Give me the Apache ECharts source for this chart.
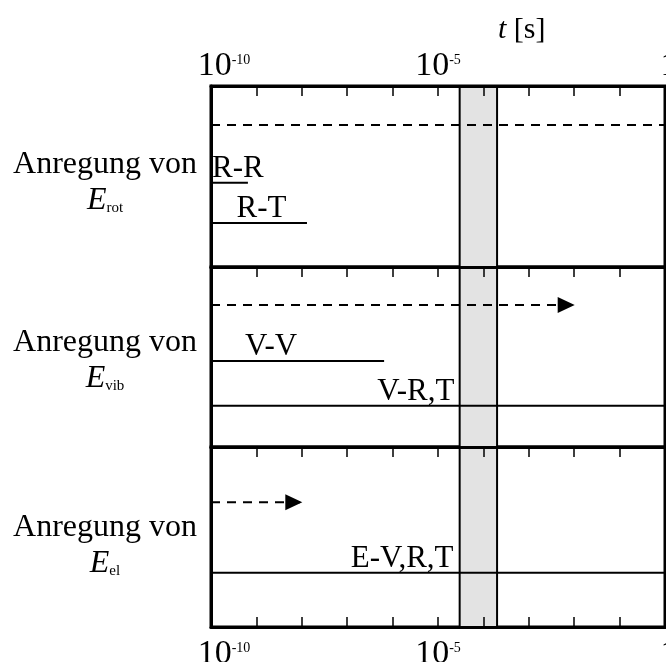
<!DOCTYPE html>
<html><head><meta charset="utf-8">
<script src="https://cdn.jsdelivr.net/npm/echarts@6/dist/echarts.min.js"></script>
<style>html,body{margin:0;padding:0;background:#fff}#c{width:666px;height:662px}</style>
</head><body><div id="c"></div>
<script>
// ---- data ----
const axisMin = 1e-10, axisMax = 1;
const panelSubscripts = ['rot', 'vib', 'el'];
const bandRange = [3e-5, 2e-4];
const processNames  = ['rot-dash', 'R-R', 'R-T', 'vib-dash', 'V-V', 'V-R,T', 'el-dash', 'E-V,R,T'];
const processPanel  = [0, 0, 0, 1, 1, 1, 2, 2];
const processStart  = [1e-10, 1e-10, 1e-10, 1e-10, 1e-10, 1e-10, 1e-10, 1e-10];
const processEnd    = [1, 6.5e-10, 1.3e-8, 1e-2, 6.5e-7, 1, 1e-8, 1];
const processLevel  = [0.785, 0.466, 0.243, 0.789, 0.478, 0.229, 0.693, 0.302];
const processDashed = [true, false, false, true, false, false, true, false];
const processArrow  = [false, false, false, true, false, false, true, false];
const labelTexts = ['R-R', 'R-T', 'V-V', 'V-R,T', 'E-V,R,T'];
const labelPanel = [0, 0, 1, 1, 2];
const labelTime  = [1.05e-10, 1.3e-9, 2.1e-9, 2.3e-5, 2.2e-5];
const labelLevel = [0.466, 0.243, 0.478, 0.229, 0.302];
const labelAlign = ['left', 'center', 'center', 'right', 'right'];
const tickLabelExponents = [-10, -5, 0];

// ---- styles ----
const FONT = 'Liberation Serif';
const gridTops = [86, 267, 447];
const gridH = [181, 180, 180];
const labelPad = [[12, 0, 0, 0], [8, 0, 0, 0], [18, 0, 0, 0]];

function tickFmt(v) {
  const e = Math.round(Math.log10(v));
  if (tickLabelExponents.indexOf(e) < 0) return '';
  if (e === 0) return '{p1|}{b|1}';
  if (e === -10) return '{p10|}{b|10}{s|' + e + '}';
  return '{b|10}{s|' + e + '}';
}
const tickRich = {
  b: {fontFamily: FONT, fontSize: 34, lineHeight: 34, color: '#000'},
  s: {fontFamily: FONT, fontSize: 14, lineHeight: 34, verticalAlign: 'top', color: '#000', padding: [4, 0, 0, 0]},
  p10: {width: 26, lineHeight: 34},
  p1: {width: 8, lineHeight: 34}
};
function tickStyle() { return {show: true, inside: true, length: 10, lineStyle: {color: '#000', width: 1.5}}; }
function axisLineStyle() { return {show: true, onZero: false, lineStyle: {color: '#000', width: 3}}; }

const grids = [], xAxes = [], yAxes = [], series = [];
for (let p = 0; p < 3; p++) {
  grids.push({left: 211, width: 454, top: gridTops[p], height: gridH[p], show: true,
    containLabel: false, outerBoundsMode: 'none',
    borderColor: '#000', borderWidth: 3, backgroundColor: 'transparent'});
  xAxes.push({
    gridIndex: p, type: 'log', logBase: 10, min: axisMin, max: axisMax, interval: 1, splitNumber: 10,
    position: 'top', z: 10,
    axisLine: axisLineStyle(), axisTick: tickStyle(),
    splitLine: {show: false}, minorTick: {show: false},
    axisLabel: {show: false}
  });
  const sub = panelSubscripts[p];
  yAxes.push({
    gridIndex: p, type: 'value', min: 0, max: 1, interval: 0.5, z: 10,
    axisLine: axisLineStyle(),
    axisTick: {show: false}, splitLine: {show: false},
    axisLabel: {
      show: true, align: 'center', margin: 106, padding: labelPad[p],
      formatter: v => Math.abs(v - 0.5) < 1e-9 ? '{a|Anregung von}\n{e|E}{sub|' + sub + '}' : '',
      rich: {
        a: {fontFamily: FONT, fontSize: 32, lineHeight: 36, color: '#000'},
        e: {fontFamily: FONT, fontSize: 32, lineHeight: 36, fontStyle: 'italic', color: '#000'},
        sub: {fontFamily: FONT, fontSize: 15, lineHeight: 36, verticalAlign: 'bottom', color: '#000', padding: [0, 0, 3, 0]}
      }
    }
  });
  // band
  series.push({
    type: 'line', xAxisIndex: p, yAxisIndex: p, data: [], z: 1, silent: true,
    markArea: {silent: true, itemStyle: {color: '#e3e3e3', borderColor: '#000', borderWidth: 2, opacity: 1},
      data: [[{xAxis: bandRange[0]}, {xAxis: bandRange[1]}]]}
  });
}
// bottom axis with labels (grid 2)
xAxes.push({
  gridIndex: 2, type: 'log', logBase: 10, min: axisMin, max: axisMax, interval: 1, splitNumber: 10,
  position: 'bottom', z: 10,
  axisLine: axisLineStyle(), axisTick: tickStyle(),
  splitLine: {show: false}, minorTick: {show: false},
  axisLabel: {show: true, margin: 10, formatter: tickFmt, rich: tickRich, showMinLabel: true, showMaxLabel: true, hideOverlap: false}
});
// top label axis (grid 0): sits on the top border, labels drawn above it
xAxes.push({
  gridIndex: 0, type: 'log', logBase: 10, min: axisMin, max: axisMax, interval: 1, splitNumber: 10,
  position: 'bottom', offset: -gridH[0], z: 10,
  axisLine: {show: false, onZero: false}, axisTick: {show: false},
  splitLine: {show: false}, minorTick: {show: false},
  axisLabel: {show: true, inside: true, margin: 3, formatter: tickFmt, rich: tickRich, showMinLabel: true, showMaxLabel: true, hideOverlap: false}
});

const ARROW = 'path://M0,0L10,5L0,10Z';
for (let i = 0; i < processNames.length; i++) {
  const p = processPanel[i];
  series.push({
    type: 'line', name: processNames[i], xAxisIndex: p, yAxisIndex: p, z: 3, silent: true,
    symbol: 'none', showSymbol: true,
    lineStyle: {color: '#000', width: 2, type: processDashed[i] ? [9, 7] : 'solid'},
    itemStyle: {color: '#000', opacity: 1},
    data: [
      [processStart[i], processLevel[i]],
      processArrow[i]
        ? {value: [processEnd[i], processLevel[i]], symbol: ARROW, symbolSize: [17, 16], symbolOffset: [-8, 0]}
        : [processEnd[i], processLevel[i]]
    ]
  });
}
for (let i = 0; i < labelTexts.length; i++) {
  const p = labelPanel[i];
  series.push({
    type: 'scatter', xAxisIndex: p, yAxisIndex: p, z: 4, silent: true, symbolSize: 0,
    itemStyle: {opacity: 1, color: '#000'},
    data: [[labelTime[i], labelLevel[i]]],
    label: {show: true, position: 'top', distance: -1, formatter: labelTexts[i], align: labelAlign[i],
      fontFamily: FONT, fontSize: 31, lineHeight: 30, color: '#000', opacity: 1}
  });
}

const chart = echarts.init(document.getElementById('c'), null, {renderer: 'canvas'});
chart.setOption({
  animation: false,
  backgroundColor: '#fff',
  title: {text: '{i|t} [s]', left: 493, top: 10,
    textStyle: {fontFamily: FONT, fontSize: 30, fontWeight: 'normal', color: '#000',
      rich: {i: {fontFamily: FONT, fontSize: 30, fontStyle: 'italic', color: '#000'}}}},
  grid: grids, xAxis: xAxes, yAxis: yAxes, series: series
});
</script></body></html>
